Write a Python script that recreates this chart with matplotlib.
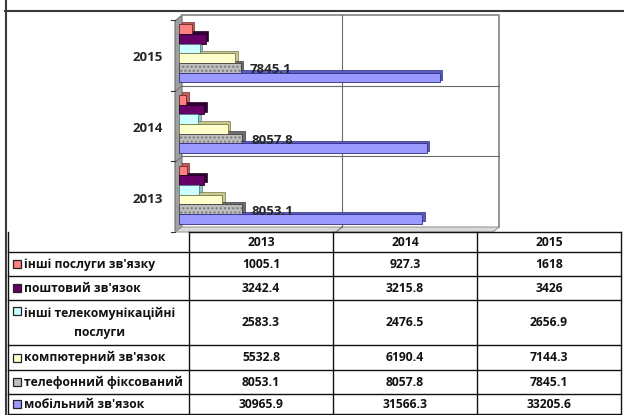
import numpy as np
import matplotlib
matplotlib.use('Agg')
import matplotlib.pyplot as plt
from matplotlib.transforms import offset_copy, ScaledTranslation
from matplotlib.patches import Polygon, Rectangle

plt.rcParams['font.family'] = ['Open Sans', 'DejaVu Sans']
plt.rcParams['font.weight'] = 'bold'
plt.rcParams['hatch.linewidth'] = 1.0

# ---------------- data ----------------
years = ['2013', '2014', '2015']
series_names = ["інші послуги зв'язку", "поштовий зв'язок",
                "інші телекомунікаційні\nпослуги", "компютерний зв'язок",
                "телефонний фіксований", "мобільний зв'язок"]
other_services = [1005.1, 927.3, 1618]
postal = [3242.4, 3215.8, 3426]
other_telecom = [2583.3, 2476.5, 2656.9]
computer = [5532.8, 6190.4, 7144.3]
fixed_phone = [8053.1, 8057.8, 7845.1]
mobile = [30965.9, 31566.3, 33205.6]
series_values = [other_services, postal, other_telecom, computer, fixed_phone, mobile]

face = ['#FF8080', '#660066', '#CCFFFF', '#FFFFCC', '#BDBDBD', '#9999FF']
side = ['#C85A5A', '#330033', '#8FC4C4', '#C8C890', '#6E6E6E', '#5C5CC0']
edge = ['#6B2A2A', '#200020', '#4F7F7F', '#77774A', '#404040', '#2E2E80']

W, H = 624, 415
fig = plt.figure(figsize=(W / 100, H / 100), dpi=100)
bg = fig.add_axes([0, 0, 1, 1], zorder=0)
bg.set_xlim(0, W)
bg.set_ylim(H, 0)
bg.axis('off')

x0, x1 = 179, 493
yt, yb = 18, 230
ax = fig.add_axes([x0 / W, 1 - yb / H, (x1 - x0) / W, (yb - yt) / H], zorder=1)
ax.set_facecolor('none')
ax.set_xlim(0, 40000)
ax.set_ylim(-0.5, 2.5)
for s in ax.spines.values():
    s.set_visible(False)

# frame lines
bg.plot([5, W], [11, 11], color='#3a3a3a', lw=1.5)
bg.plot([6, 6], [0, H], color='#3a3a3a', lw=1.5)

# 3D walls
bx0, btop, bx1, bbot = 182, 15, 499, 227
bg.add_patch(Polygon([(175, 232), (175, 21), (182, 15), (182, 227)],
                     closed=True, fc='#A0A0A0', ec='#707070', lw=0.8))
bg.add_patch(Polygon([(175, 232), (x1, 232), (bx1, bbot), (bx0, bbot)],
                     closed=True, fc='#D9D9D9', ec='#9a9a9a', lw=0.8))
bg.plot([bx0, bx1, bx1], [btop, btop, bbot], color='#8C8C8C', lw=1.3)

# gridline at 20000 (back wall)
gx = ax.transData.transform((20000, 0))[0] + 6
bg.plot([gx, gx], [btop, bbot], color='#6a6a6a', lw=0.8)
bg.plot([gx, gx - 6], [bbot, 232], color='#6a6a6a', lw=0.8)
# category separators on back wall
for b in [0.5, 1.5]:
    fy = H - ax.transData.transform((0, b))[1]
    bg.plot([bx0, bx1], [fy - 3, fy - 3], color='#6a6a6a', lw=0.8)
    bg.plot([175, bx0], [fy + 3, fy - 3], color='#6a6a6a', lw=0.6)
for b in [-0.5, 0.5, 1.5, 2.5]:
    fy = H - ax.transData.transform((0, b))[1]
    bg.plot([171, 175], [fy + 2, fy + 2], color='#333333', lw=0.8)

# bars
h = 0.137
n = len(series_values)
tr_shadow = offset_copy(ax.transData, fig=fig, x=2.5, y=2.5, units='dots')
yidx = np.arange(len(years))
for i, vals in enumerate(series_values):
    off = (n - 1) / 2 - i
    ys = yidx + off * h
    ax.barh(ys, vals, height=h, color=side[i], edgecolor=edge[i], lw=0.5,
            transform=tr_shadow, zorder=2)
    if i == 4:
        ax.barh(ys, vals, height=h, color=face[i], edgecolor='#7a7a7a', lw=0,
                hatch='....', zorder=3)
        ax.barh(ys, vals, height=h, fill=False, edgecolor=edge[i], lw=0.6, zorder=3)
        for y, v in zip(ys, vals):
            ax.annotate(f'{v}', xy=(v, y), xytext=(9, -2), textcoords='offset pixels',
                        ha='left', va='center', fontsize=9.5, fontweight='bold',
                        color='#262626', zorder=4)
    else:
        ax.barh(ys, vals, height=h, color=face[i], edgecolor=edge[i], lw=0.6, zorder=3)

ax.set_yticks(yidx)
ax.set_yticklabels(years, fontsize=9.5, fontweight='bold')
ax.tick_params(axis='y', length=0, pad=11.5)
ax.tick_params(axis='x', length=0, labelbottom=False)
for lab in ax.get_yticklabels():
    lab.set_color('#262626')
    lab.set_transform(lab.get_transform() + ScaledTranslation(0, -3 / 100, fig.dpi_scale_trans))

# ---------------- data table ----------------
col_x = [8, 189, 333, 477, 621]
row_y = [232, 252, 276, 300, 345, 370, 394, 414]
lc = '#111111'
bg.plot([col_x[1], col_x[-1]], [row_y[0], row_y[0]], color=lc, lw=1)
for y in row_y[1:]:
    bg.plot([col_x[0], col_x[-1]], [y, y], color=lc, lw=1)
bg.plot([col_x[0], col_x[0]], [row_y[1] - 20, row_y[-1]], color=lc, lw=1)
for x in col_x[1:]:
    bg.plot([x, x], [row_y[0], row_y[-1]], color=lc, lw=1)

fs = 8.7
for j, yr in enumerate(years):
    cx = (col_x[j + 1] + col_x[j + 2]) / 2
    bg.text(cx, (row_y[0] + row_y[1]) / 2, yr, ha='center', va='center',
            fontsize=fs, fontweight='bold', color='#111111')

for i, (name, vals) in enumerate(zip(series_names, series_values)):
    ytop, ybot = row_y[i + 1], row_y[i + 2]
    yc = (ytop + ybot) / 2
    if '\n' in name:
        ky = ytop + 11
        bg.text(24, yc, name, ha='left', va='center', multialignment='center',
                fontsize=fs, fontweight='bold', color='#111111', linespacing=1.6)
    else:
        ky = yc
        bg.text(24, yc, name, ha='left', va='center', fontsize=fs,
                fontweight='bold', color='#111111')
    bg.add_patch(Rectangle((13, ky - 4), 8, 8, fc=face[i], ec='#222222', lw=0.9))
    for j, v in enumerate(vals):
        cx = (col_x[j + 1] + col_x[j + 2]) / 2
        bg.text(cx, yc, f'{v}', ha='center', va='center', fontsize=fs,
                fontweight='bold', color='#111111')

fig.savefig('out.png', dpi=100)
